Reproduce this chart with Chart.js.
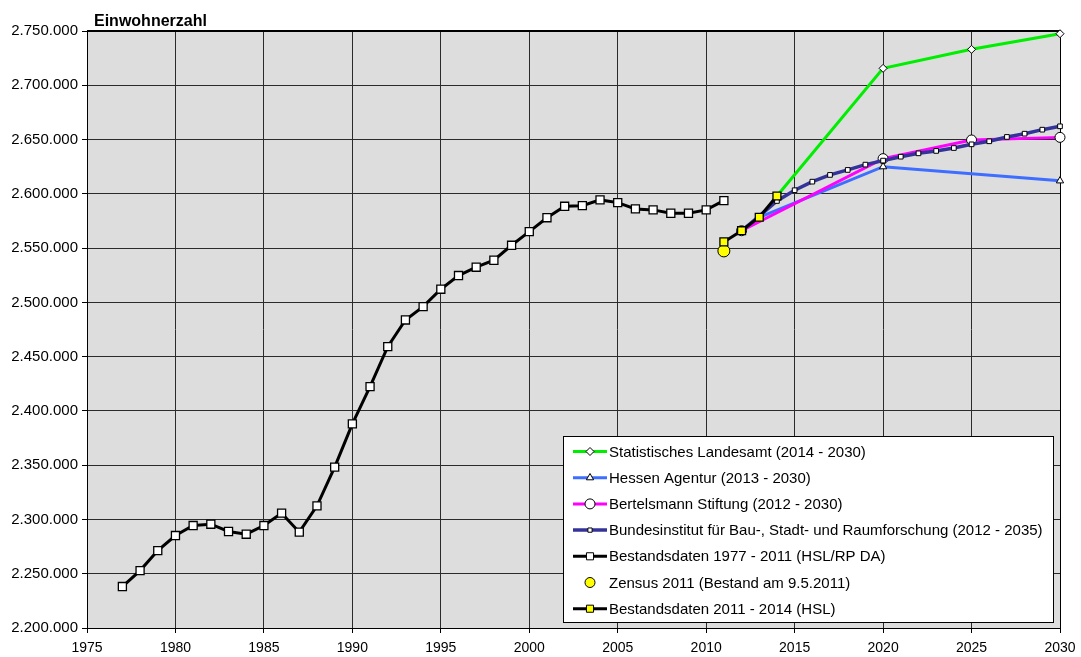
<!DOCTYPE html>
<html><head><meta charset="utf-8">
<script src="https://cdn.jsdelivr.net/npm/chart.js@4/dist/chart.umd.min.js"></script>
<style>html,body{margin:0;padding:0;background:#fff}#wrap{width:1081px;height:657px;position:relative}</style>
</head><body><div id="wrap"><canvas id="c" width="1081" height="657"></canvas></div>
<script>
const titleText = "Einwohnerzahl";
const xTicks = [1975,1980,1985,1990,1995,2000,2005,2010,2015,2020,2025,2030];
const yMin = 2200000, yMax = 2750000, yStep = 50000;

const histYears = [1977,1978,1979,1980,1981,1982,1983,1984,1985,1986,1987,1988,1989,1990,1991,1992,1993,1994,1995,1996,1997,1998,1999,2000,2001,2002,2003,2004,2005,2006,2007,2008,2009,2010,2011];
const histValues = [2238200,2252900,2271300,2285200,2294400,2295600,2288900,2286400,2294400,2305800,2288300,2312500,2348200,2388000,2422400,2459200,2483800,2496100,2512100,2524700,2532400,2538800,2552600,2565200,2578000,2588500,2589100,2594400,2591900,2586100,2585200,2582100,2582100,2585200,2593700];

const hslYears = [2011,2012,2013,2014];
const hslValues = [2555700,2566000,2578400,2598000];

const zensusYears = [2011];
const zensusValues = [2547400];

const landesamtYears = [2014,2020,2025,2030];
const landesamtValues = [2598000,2715600,2733100,2747500];

const hessenYears = [2013,2020,2030];
const hessenValues = [2578400,2625000,2612000];

const bertelsmannYears = [2012,2020,2025,2030];
const bertelsmannValues = [2566000,2632400,2649600,2652000];

const bbsrYears = [2012,2013,2014,2015,2016,2017,2018,2019,2020,2021,2022,2023,2024,2025,2026,2027,2028,2029,2030];
const bbsrValues = [2566000,2579500,2593400,2603300,2611200,2617400,2622000,2626900,2630600,2634200,2637300,2639500,2642200,2645600,2648400,2652400,2655400,2659100,2662200];

const labels = [
  "Statistisches Landesamt (2014 - 2030)",
  "Hessen Agentur (2013 - 2030)",
  "Bertelsmann Stiftung (2012 - 2030)",
  "Bundesinstitut für Bau-, Stadt- und Raumforschung (2012 - 2035)",
  "Bestandsdaten 1977 - 2011 (HSL/RP DA)",
  "Zensus 2011 (Bestand am 9.5.2011)",
  "Bestandsdaten 2011 - 2014 (HSL)"
];

const pts = (xs, ys) => xs.map((x, i) => ({x: x, y: ys[i]}));
const fmt = v => String(Math.round(v)).replace(/\B(?=(\d{3})+(?!\d))/g, ".");

const datasets = [
  {label: labels[0], data: pts(landesamtYears, landesamtValues), borderColor:'#00ee00', borderWidth:3,
   pointStyle:'rectRot', pointRadius:4, pointBackgroundColor:'#fff', pointBorderColor:'#000', pointBorderWidth:1, order:6, showLine:true, clip:false},
  {label: labels[1], data: pts(hessenYears, hessenValues), borderColor:'#3d6eff', borderWidth:3,
   pointStyle:'triangle', pointRadius:4.2, pointBackgroundColor:'#fff', pointBorderColor:'#000', pointBorderWidth:1, order:5, showLine:true, clip:false},
  {label: labels[2], data: pts(bertelsmannYears, bertelsmannValues), borderColor:'#ff00ff', borderWidth:3,
   pointStyle:'circle', pointRadius:5, pointBackgroundColor:'#fff', pointBorderColor:'#000', pointBorderWidth:1, order:4, showLine:true, clip:false},
  {label: labels[3], data: pts(bbsrYears, bbsrValues), borderColor:'#333399', borderWidth:3.5,
   pointStyle:'rect', pointRadius:3.3, pointBackgroundColor:'#fff', pointBorderColor:'#000', pointBorderWidth:1, order:3, showLine:true, clip:false},
  {label: labels[4], data: pts(histYears, histValues), borderColor:'#000', borderWidth:3,
   pointStyle:'rect', pointRadius:5.7, pointBackgroundColor:'#fff', pointBorderColor:'#000', pointBorderWidth:1.3, order:2, showLine:true, clip:false},
  {label: labels[5], data: pts(zensusYears, zensusValues), borderColor:'#000', borderWidth:0,
   pointStyle:'circle', pointRadius:6, pointBackgroundColor:'#ffff00', pointBorderColor:'#000', pointBorderWidth:1, order:1, showLine:false, clip:false},
  {label: labels[6], data: pts(hslYears, hslValues), borderColor:'#000', borderWidth:3,
   pointStyle:'rect', pointRadius:5.6, pointBackgroundColor:'#ffff00', pointBorderColor:'#000', pointBorderWidth:1.3, order:0, showLine:true, clip:false}
];

const bgPlugin = {
  id:'bg',
  beforeDraw(chart){
    const {ctx, chartArea:a} = chart;
    ctx.save(); ctx.fillStyle='#dddddd'; ctx.fillRect(a.left, a.top, a.right-a.left, a.bottom-a.top); ctx.restore();
  },
  beforeDatasetsDraw(chart){
    const {ctx, chartArea:a} = chart;
    ctx.save();
    ctx.strokeStyle='#000'; ctx.lineWidth=1;
    ctx.strokeRect(a.left+0.5, a.top+0.5, a.right-a.left, a.bottom-a.top);
    ctx.lineWidth=2; ctx.beginPath(); ctx.moveTo(a.left, a.top); ctx.lineTo(a.right+1, a.top); ctx.stroke();
    ctx.restore();
  },
  afterDraw(chart){
    const {ctx} = chart;
    ctx.save();
    // title
    ctx.fillStyle='#000'; ctx.font='bold 16px "Liberation Sans", Arial, sans-serif';
    ctx.textBaseline='alphabetic'; ctx.textAlign='left';
    ctx.fillText(titleText, 94, 26);
    // legend
    const bx=563, by=436, bw=490, bh=186;
    ctx.fillStyle='#fff'; ctx.fillRect(bx, by, bw, bh);
    ctx.strokeStyle='#000'; ctx.lineWidth=1; ctx.strokeRect(bx+0.5, by+0.5, bw, bh);
    ctx.font='15px "Liberation Sans", Arial, sans-serif';
    ctx.textBaseline='middle';
    const order = [0,1,2,3,4,5,6];
    order.forEach((di, i) => {
      const ds = chart.data.datasets[di];
      const y = by + 15.5 + i*26.2;
      if (ds.showLine) {
        ctx.strokeStyle = ds.borderColor; ctx.lineWidth = ds.borderWidth;
        ctx.beginPath(); ctx.moveTo(573, y); ctx.lineTo(607, y); ctx.stroke();
      }
      ctx.fillStyle = ds.pointBackgroundColor; ctx.strokeStyle = ds.pointBorderColor; ctx.lineWidth = 1;
      let r = ds.pointRadius;
      if (di===3) r = 3; if (di===4||di===6) r = 5; if (di===5) r = 5;
      Chart.helpers.drawPoint(ctx, {pointStyle: ds.pointStyle, radius: r, rotation: 0, borderWidth: 1}, 590, y);
      ctx.fillStyle='#000';
      ctx.fillText(ds.label, 609, y+1);
    });
    ctx.restore();
  }
};

new Chart(document.getElementById('c'), {
  type:'scatter',
  data:{datasets},
  options:{
    responsive:false, animation:false,
    layout:{padding:{left:0, right:21, top:31, bottom:0}},
    plugins:{legend:{display:false}, tooltip:{enabled:false}, title:{display:false}},
    elements:{line:{tension:0}},
    scales:{
      x:{type:'linear', min:1975, max:2030,
        afterBuildTicks: s => { s.ticks = xTicks.map(v => ({value:v})); },
        afterFit: s => { s.height = 29; s.paddingRight = 0; s.paddingLeft = 0; },
        grid:{color:'#2a2a2a', lineWidth:1, drawTicks:true, tickLength:5, tickColor:'#000'},
        border:{color:'#000', width:1},
        ticks:{color:'#000', font:{family:'"Liberation Sans", Arial, sans-serif', size:14}, padding:7, maxRotation:0, autoSkip:false, callback: v => String(v)}
      },
      y:{type:'linear', min:yMin, max:yMax,
        ticks:{stepSize:yStep, color:'#000', font:{family:'"Liberation Sans", Arial, sans-serif', size:15}, padding:4, callback: v => fmt(v)},
        afterFit: s => { s.width = 87; },
        grid:{color:'#2a2a2a', lineWidth:1, drawTicks:true, tickLength:5, tickColor:'#000'},
        border:{color:'#000', width:1}
      }
    }
  },
  plugins:[bgPlugin]
});
</script>
</body></html>
